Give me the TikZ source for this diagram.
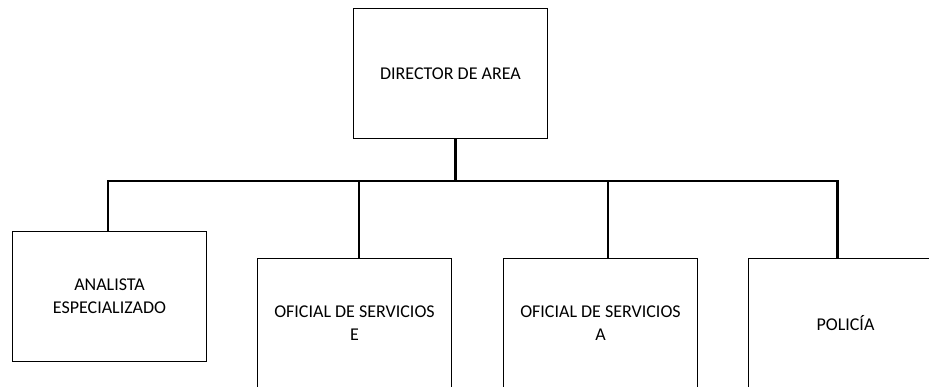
\documentclass[tikz,border=0pt]{standalone}
\usepackage{fontspec}
\setmainfont{Carlito}
\begin{document}
\begin{tikzpicture}[x=1pt,y=-1pt,
  box/.style={draw=black,line width=1pt,minimum width=194pt,minimum height=130pt,anchor=north west,align=center,inner sep=0pt,font=\fontsize{18}{23}\selectfont},
  conn/.style={draw=black,line width=2.4pt}]
\clip (0,0) rectangle (929,386);
\fill[white] (0,0) rectangle (929,386);
\node[box] (dir) at (353,8) {DIRECTOR DE AREA};
\node[box] (ana) at (12,231) {ANALISTA\\ESPECIALIZADO};
\node[box] (ofe) at (257,258) {OFICIAL DE SERVICIOS\\E};
\node[box] (ofa) at (503,258) {OFICIAL DE SERVICIOS\\A};
\node[box] (pol) at (748,258) {POLICÍA};
\coordinate (ds) at ([xshift=102.5pt]dir.south west);
\coordinate (as) at ([xshift=95.7pt]ana.north west);
\coordinate (es) at ([xshift=101.7pt]ofe.north west);
\coordinate (os) at ([xshift=104.7pt]ofa.north west);
\coordinate (ps) at ([xshift=89.3pt]pol.north west);
\coordinate (j) at (ds |- 0,180.7);
\draw[conn] (ds) -- (j);
\draw[conn,line cap=rect] (as |- j) -- (ps |- j);
\draw[conn] (as |- j) -- (as);
\draw[conn] (es |- j) -- (es);
\draw[conn] (os |- j) -- (os);
\draw[conn] (ps |- j) -- (ps);
\end{tikzpicture}
\end{document}
